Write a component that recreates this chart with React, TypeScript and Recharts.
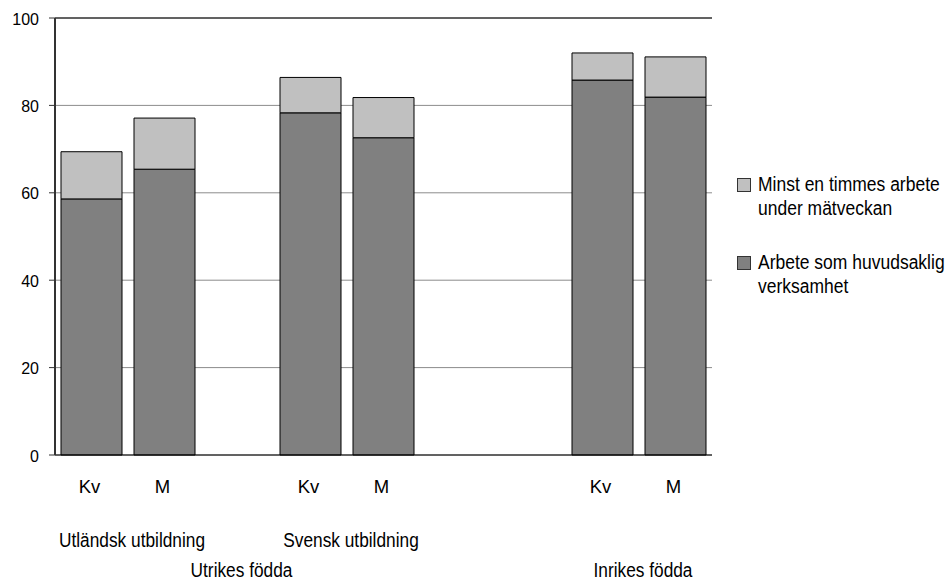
import { BarChart, Bar, XAxis, YAxis, CartesianGrid, ReferenceLine } from 'recharts'

// one slot per category position, empty slots make the gaps between groups
const sexLabels = ['Kv', 'M', '', 'Kv', 'M', '', '', 'Kv', 'M']
const mainValues = [58.6, 65.4, null, 78.3, 72.6, null, null, 85.8, 81.9]
const totalValues = [69.4, 77.1, null, 86.4, 81.8, null, null, 92.0, 91.1]

// group labels, spanning slot ranges
const educationGroups = [
  { label: 'Utländsk utbildning', from: 0, to: 1 },
  { label: 'Svensk utbildning', from: 3, to: 4 },
]
const birthGroups = [
  { label: 'Utrikes födda', from: 0, to: 4 },
  { label: 'Inrikes födda', from: 7, to: 8 },
]

const yTicks = [0, 20, 40, 60, 80, 100]

const legendItems = [
  { lines: ['Minst en timmes arbete', 'under mätveckan'], color: '#c0c0c0' },
  { lines: ['Arbete som huvudsaklig', 'verksamhet'], color: '#808080' },
]

const rows = sexLabels.map((sex, i) => {
  const main = mainValues[i]
  const total = totalValues[i]
  return {
    sex,
    main,
    extra: main == null || total == null ? null : +(total - main).toFixed(1),
  }
})

const W = 952
const H = 580
const PLOT_LEFT = 55
const PLOT_RIGHT = 712
const SLOT = (PLOT_RIGHT - PLOT_LEFT) / sexLabels.length
const FONT = '"Liberation Sans", Arial, Helvetica, sans-serif'

function Label({ x, y, size, sy = 1, anchor = 'middle', children }: any) {
  return (
    <text
      transform={`translate(${x},${y}) scale(1,${sy})`}
      textAnchor={anchor}
      fontSize={size}
      fontFamily={FONT}
      fill="#000"
    >
      {children}
    </text>
  )
}

function SlotTick(props: any) {
  const { x, y, index } = props
  const edu = educationGroups.find(g => g.from === index)
  const birth = birthGroups.find(g => g.from === index)
  return (
    <g>
      {sexLabels[index] && <Label x={x - 2} y={y + 38} size={18.5}>{sexLabels[index]}</Label>}
      {edu && (
        <Label x={x + ((edu.to - edu.from) * SLOT) / 2 + 4} y={y + 92} size={17.3} sy={1.18}>
          {edu.label}
        </Label>
      )}
      {birth && (
        <Label x={x + ((birth.to - birth.from) * SLOT) / 2 + 4} y={y + 122} size={17.3} sy={1.18}>
          {birth.label}
        </Label>
      )}
    </g>
  )
}

function ValueTick(props: any) {
  const { x, y, payload } = props
  return <Label x={x - 1} y={y + 6.5} size={16} sy={1.07} anchor="end">{payload.value}</Label>
}

export default function App() {
  return (
    <div style={{ position: 'absolute', left: 0, top: 0, width: W, height: H, background: '#fff', overflow: 'hidden' }}>
      <BarChart
        width={W}
        height={H}
        data={rows}
        margin={{ top: 18, right: W - PLOT_RIGHT, bottom: 0, left: 0 }}
        barCategoryGap={6}
        style={{ overflow: 'visible' }}
      >
        <CartesianGrid vertical={false} stroke="#8c8c8c" />
        <XAxis
          dataKey="sex"
          height={H - 455}
          interval={0}
          tickLine={false}
          tickSize={0}
          tickMargin={0}
          axisLine={{ stroke: '#000' }}
          tick={<SlotTick />}
        />
        <YAxis
          domain={[0, 100]}
          ticks={yTicks}
          width={PLOT_LEFT}
          tickSize={6}
          tickMargin={9}
          axisLine={{ stroke: '#333', strokeWidth: 2 }}
          tickLine={{ stroke: '#333' }}
          tick={<ValueTick />}
        />
        <YAxis
          yAxisId="right"
          orientation="right"
          domain={[0, 100]}
          width={0}
          tick={false}
          tickLine={false}
          axisLine={{ stroke: '#666', strokeWidth: 2 }}
        />
        <ReferenceLine y={100} stroke="#000" />
        <Bar dataKey="main" stackId="a" fill="#808080" stroke="#000" strokeWidth={1} isAnimationActive={false} />
        <Bar dataKey="extra" stackId="a" fill="#c0c0c0" stroke="#000" strokeWidth={1} isAnimationActive={false} />
      </BarChart>

      <svg width={W} height={H} style={{ position: 'absolute', left: 0, top: 0, pointerEvents: 'none' }}>
        {legendItems.map((item, i) => {
          const top = 178 + i * 78
          return (
            <g key={i}>
              <rect x={737.5} y={top + 0.5} width={13} height={13} fill={item.color} stroke="#333" />
              {item.lines.map((line, j) => (
                <Label key={j} x={758} y={top + 13 + j * 23.5} size={17.5} sy={1.2} anchor="start">
                  {line}
                </Label>
              ))}
            </g>
          )
        })}
      </svg>
    </div>
  )
}
